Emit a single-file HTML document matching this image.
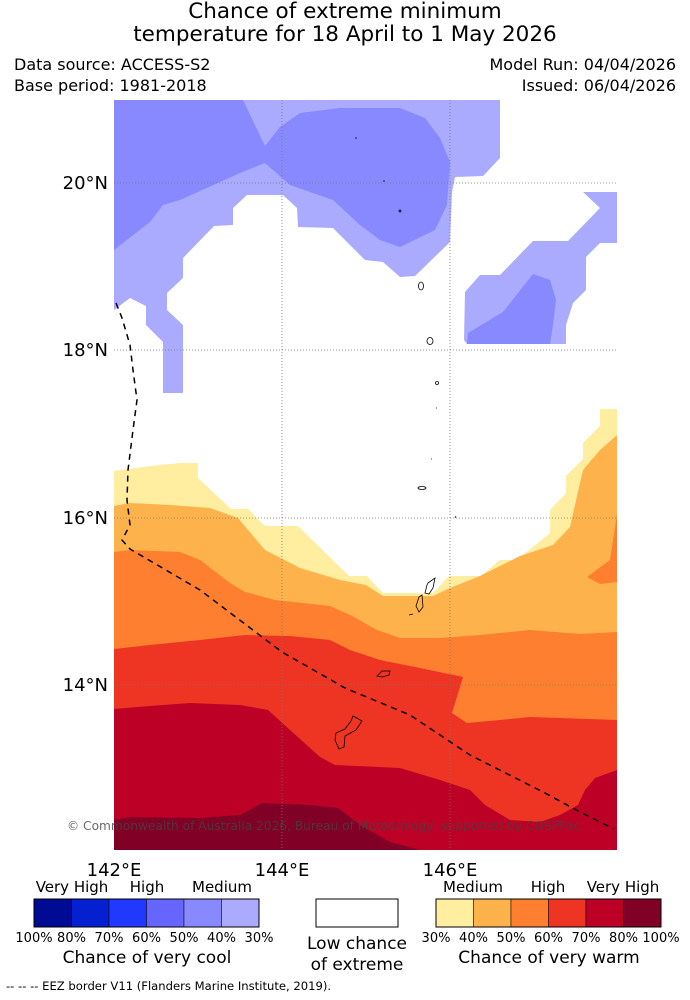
<!DOCTYPE html>
<html><head><meta charset="utf-8"><style>
html,body{margin:0;padding:0;background:#fff;}
body{width:690px;height:1000px;position:relative;overflow:hidden;font-family:"DejaVu Sans","Liberation Sans",sans-serif;color:#000;}
svg{position:absolute;left:0;top:0;}
</style></head><body>
<svg id="chart" width="690" height="1000" viewBox="0 0 690 1000" xmlns="http://www.w3.org/2000/svg">
<text x="345" y="18" font-size="21.5" text-anchor="middle">Chance of extreme minimum</text>
<text x="345" y="41" font-size="21.5" text-anchor="middle">temperature for 18 April to 1 May 2026</text>
<text x="14" y="70" font-size="16">Data source: ACCESS-S2</text>
<text x="14" y="91" font-size="16">Base period: 1981-2018</text>
<text x="676" y="70" font-size="16" text-anchor="end">Model Run: 04/04/2026</text>
<text x="676" y="91" font-size="16" text-anchor="end">Issued: 06/04/2026</text>
<defs><clipPath id="mapclip"><rect x="114" y="100" width="503" height="750"/></clipPath></defs>
<g id="map" clip-path="url(#mapclip)">
<rect x="114" y="100" width="503" height="750" fill="#fff"/>
<polygon fill="#aaaaff" points="114,100 500,100 500,158 483,176 455,177 452,192 450,242 415,276 400,277 383,262 365,260 333,228 298,227 297,208 283,195 247,195 233,208 233,225 214,226 183,258 183,278 167,293 167,310 183,325 183,393 163,393 163,342 146,325 146,306 130,298 114,310"/>
<polygon fill="#8888ff" points="114,100 243,100 265,146 280,127 300,113 340,108 400,108 425,118 440,138 450,162 447,205 435,230 400,247 380,240 360,225 333,200 290,185 265,163 240,173 180,200 163,205 150,222 114,250"/>
<polygon fill="#aaaaff" points="583,192 617,192 617,243 600,243 586,257 586,290 573,303 566,325 566,344 467,344 464,340 465,292 480,275 500,275 533,241 568,241 600,208"/>
<polygon fill="#8888ff" points="467,344 468,333 503,312 533,274 550,280 556,300 553,325 550,344"/>
<polygon fill="#ffeda0" points="114,471 150,466 180,463 198,463 198,478 231,509 248,509 265,526 298,526 349,576 367,576 383,593 433,593 449,576 481,576 500,560 517,560 550,533 550,510 566,493 566,476 583,459 583,443 600,426 600,409 617,409 617,850 114,850"/>
<polygon fill="#feb24c" points="114,506 130,503 170,505 210,508 238,518 265,550 300,568 340,580 366,585 383,596 433,596 450,588 480,576 520,556 553,545 570,527 583,470 600,450 617,435 617,850 114,850"/>
<polygon fill="#fd7f2f" points="617,514 610,560 587,577 600,584 617,582"/>
<polygon fill="#fd7f2f" points="114,552 130,550 180,552 200,560 230,583 245,592 275,600 330,606 350,615 377,630 400,638 440,638 480,635 530,630 580,634 617,632 617,850 114,850"/>
<polygon fill="#ee3524" points="114,649 150,645 200,640 245,635 290,636 330,640 350,650 380,660 420,668 463,677 452,713 467,723 500,720 530,717 560,718 617,720 617,850 114,850"/>
<polygon fill="#bd0026" points="114,709 150,706 190,703 240,705 268,710 290,730 320,757 335,765 400,768 440,780 470,790 485,805 510,820 540,822 560,815 578,805 585,790 595,778 617,770 617,850 114,850"/>
<polygon fill="#800026" points="114,820 130,817 200,818 240,815 262,803 310,805 338,808 360,825 390,842 420,850 114,850"/>
<g stroke="#777" stroke-width="0.8" stroke-dasharray="1,2" fill="none">
<line x1="282" y1="100" x2="282" y2="850"/><line x1="450" y1="100" x2="450" y2="850"/>
<line x1="114" y1="183" x2="617" y2="183"/><line x1="114" y1="350" x2="617" y2="350"/>
<line x1="114" y1="518" x2="617" y2="518"/><line x1="114" y1="685" x2="617" y2="685"/>
</g>
<g fill="none" stroke="#000" stroke-width="0.8">
<polygon points="428,583 435,578 433,588 429,594 425,593 427,585"/>
<polygon points="419,597 422,595 423,607 419,612 416,606"/>
<polygon points="377,676 382,671 390,671 389,675 382,677"/>
<polygon points="353,716 362,721 356,730 345,736 344,747 339,749 335,740 336,733 345,729 351,721"/>
<ellipse cx="421" cy="286" rx="2.5" ry="4"/><ellipse cx="430" cy="341" rx="3" ry="3.5"/>
<ellipse cx="437" cy="383" rx="1.5" ry="1.5"/><ellipse cx="422" cy="488" rx="4" ry="1.5"/>
<ellipse cx="400" cy="211" rx="1" ry="1"/><line x1="409" y1="615" x2="413" y2="614"/>
<line x1="355" y1="138" x2="357" y2="138"/><line x1="383" y1="181" x2="385" y2="181"/>
<line x1="431" y1="459" x2="432" y2="459"/><line x1="436" y1="408" x2="437" y2="408"/><line x1="455" y1="518" x2="456" y2="516"/>
</g>
<polyline fill="none" stroke="#000" stroke-width="1.5" stroke-dasharray="6,5" points="116,303 122,318 130,345 133,370 137,400 133,430 128,470 127,500 130,525 122,540 130,549 200,590 282,652 345,688 410,715 470,755 545,793 580,812 614,829"/>
</g>
<text x="67" y="830" font-size="12.2" fill="#444" fill-opacity="0.8">© Commonwealth of Australia 2026, Bureau of Meteorology, supported by COSPPac</text>
<g font-size="18" text-anchor="end">
<text x="108" y="189">20°N</text><text x="108" y="356">18°N</text><text x="108" y="524">16°N</text><text x="108" y="691">14°N</text>
</g>
<g font-size="18" text-anchor="middle">
<text x="114" y="876">142°E</text><text x="282" y="876">144°E</text><text x="450" y="876">146°E</text>
</g>
<g id="legend"></g>
<text x="6" y="990" font-size="11.6">--  --  -- EEZ border V11 (Flanders Marine Institute, 2019).</text>
</svg>
<script>
const coolColors = ["#000b94","#0520d0","#2038ff","#6666ff","#8888ff","#aaaaff"];
const coolTicks = ["100%","80%","70%","60%","50%","40%","30%"];
const warmColors = ["#ffeda0","#feb24c","#fd7f2f","#ee3524","#bd0026","#800026"];
const warmTicks = ["30%","40%","50%","60%","70%","80%","100%"];
const NS = "http://www.w3.org/2000/svg";
const lg = document.getElementById('legend');
function mk(tag, attrs, txt){const e=document.createElementNS(NS,tag);for(const k in attrs)e.setAttribute(k,attrs[k]);if(txt!==undefined)e.textContent=txt;lg.appendChild(e);return e;}
function bar(x0, colors, ticks, prefix){
  const w=225/colors.length;
  colors.forEach((c,i)=>{const r=mk('rect',{x:x0+i*w,y:899,width:w,height:28,fill:c,stroke:'#000','stroke-width':0.5});
    
    });
  const o=mk('rect',{x:x0,y:899,width:225,height:28,fill:'none',stroke:'#000','stroke-width':1});
  
  
  ticks.forEach((t,i)=>{const e=mk('text',{x:x0+i*w,y:942,'font-size':13,'text-anchor':'middle'},t);
    
    });
}
bar(34, coolColors, coolTicks, 'cool');
bar(436, warmColors, warmTicks, 'warm');
[["Very High",72],["High",147],["Medium",222]].forEach(([t,x])=>{const e=mk('text',{x:x,y:892,'font-size':15,'text-anchor':'middle'},t);
  
  });
[["Medium",473],["High",548],["Very High",623]].forEach(([t,x])=>{const e=mk('text',{x:x,y:892,'font-size':15,'text-anchor':'middle'},t);
  
  });
const t1=mk('text',{x:147,y:963,'font-size':17,'text-anchor':'middle'},'Chance of very cool');


const t2=mk('text',{x:549,y:963,'font-size':17,'text-anchor':'middle'},'Chance of very warm');


const lb=mk('rect',{x:316,y:899,width:82,height:28,fill:'#fff',stroke:'#000','stroke-width':1});


const l1=mk('text',{x:357,y:949,'font-size':17,'text-anchor':'middle'},'Low chance');


const l2=mk('text',{x:357,y:970,'font-size':17,'text-anchor':'middle'},'of extreme');


</script>
</body></html>
